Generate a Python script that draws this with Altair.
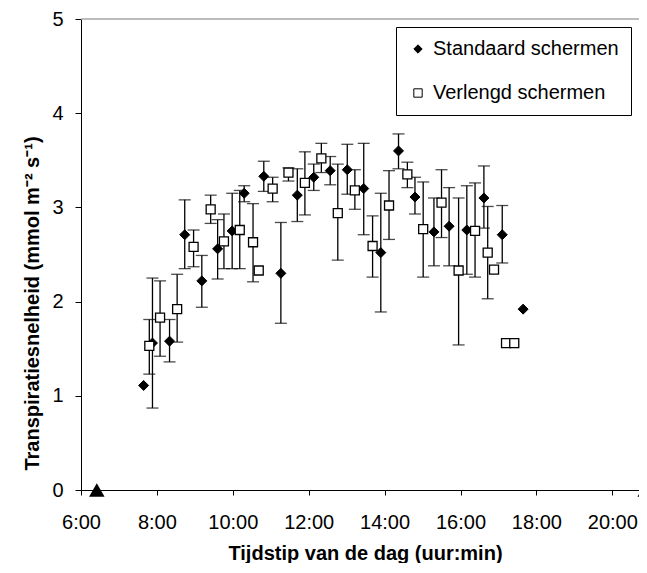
import altair as alt
import pandas as pd

# ---- data ----
series_names = ["Standaard schermen", "Verlengd schermen"]

std_time = ["7:39", "7:53", "8:20", "8:44", "9:11", "9:36", "9:59", "10:18", "10:49", "11:16",
            "11:42", "12:08", "12:34", "13:01", "13:27", "13:54", "14:22", "14:48", "15:18",
            "15:42", "16:10", "16:37", "17:06", "17:39"]
std_val = [1.11, 1.56, 1.58, 2.71, 2.22, 2.56, 2.75, 3.15, 3.33, 2.30, 3.13, 3.32, 3.39, 3.40,
           3.20, 2.52, 3.60, 3.11, 2.74, 2.80, 2.76, 3.10, 2.71, 1.92]
std_lo = [None, 0.87, 1.36, 2.35, 1.94, 2.24, 2.35, 3.06, 3.17, 1.77, 2.85, 3.18, 3.24, 3.14,
          2.71, 1.89, 3.41, 2.93, 2.38, 2.38, 2.29, 2.78, 2.41, None]
std_hi = [None, 2.25, 1.81, 3.08, 2.49, 2.87, 3.15, 3.23, 3.49, 2.84, 3.41, 3.46, 3.54, 3.67,
          3.68, 3.15, 3.78, 3.32, 3.10, 3.21, 3.23, 3.44, 3.02, None]

ver_time = ["7:48", "8:05", "8:32", "8:58", "9:25", "9:46", "10:11", "10:32", "10:41", "11:03",
            "11:28", "11:54", "12:20", "12:46", "13:13", "13:41", "14:07", "14:36", "15:01",
            "15:30", "15:57", "16:23", "16:43", "16:53", "17:12", "17:25"]
ver_val = [1.53, 1.83, 1.92, 2.58, 2.98, 2.64, 2.76, 2.63, 2.33, 3.20, 3.37, 3.26, 3.52, 2.94,
           3.18, 2.59, 3.02, 3.35, 2.77, 3.05, 2.33, 2.75, 2.52, 2.34, 1.56, 1.56]
ver_lo = [1.23, 1.42, 1.57, 2.37, 2.83, 2.35, 2.35, 2.21, None, 3.06, 3.28, 2.92, 3.37, 2.44,
          2.98, 2.26, 2.66, 3.21, 2.26, 2.68, 1.54, 2.26, 2.03, None, None, None]
ver_hi = [1.81, 2.22, 2.29, 2.76, 3.13, 2.93, 3.18, 3.04, None, 3.32, 3.42, 3.59, 3.68, 3.46,
          3.40, 2.91, 3.39, 3.48, 3.27, 3.40, 3.10, 3.26, 3.01, None, None, None]

marker_time = ["6:25", "20:52"]
marker_val = [0, 0]

x_ticks = [6, 8, 10, 12, 14, 16, 18, 20]
y_ticks = [0, 1, 2, 3, 4, 5]


def to_hours(s):
    h, m = s.split(":")
    return int(h) + int(m) / 60.0


rows = []
for t, v, lo, hi in zip(std_time, std_val, std_lo, std_hi):
    rows.append({"serie": series_names[0], "t": to_hours(t), "v": v, "lo": lo, "hi": hi})
for t, v, lo, hi in zip(ver_time, ver_val, ver_lo, ver_hi):
    rows.append({"serie": series_names[1], "t": to_hours(t), "v": v, "lo": lo, "hi": hi})
df = pd.DataFrame(rows)

marks_df = pd.DataFrame({"t": [to_hours(s) for s in marker_time], "v": marker_val})
top_df = pd.DataFrame({"v": [5]})

FONT = "Liberation Sans"
PLOT_W = 558
xscale = alt.Scale(domain=[6, 6 + PLOT_W / 37.95], nice=False, zero=False)
yscale = alt.Scale(domain=[0, 5], nice=False)

x_axis = alt.Axis(values=x_ticks, labelExpr="format(datum.value, 'd') + ':00'", tickSize=5,
                  labelPadding=33, labelBaseline="alphabetic", labelFlush=False,
                  labelOverlap=False, title="Tijdstip van de dag (uur:min)", titleX=284,
                  titleY=69, titleAlign="center", titleBaseline="alphabetic")
y_axis = alt.Axis(values=y_ticks, format="d", tickSize=6, labelPadding=12, labelBaseline="middle",
                  title="Transpiratiesnelheid (mmol m⁻² s⁻¹)", titleX=-43, titleY=284,
                  titleAngle=270, titleAlign="center", titleBaseline="alphabetic")

shape_scale = alt.Scale(domain=series_names, range=["diamond", "square"])
fill_scale = alt.Scale(domain=series_names, range=["black", "white"])
stroke_scale = alt.Scale(domain=series_names, range=["black", "black"])
leg = alt.Legend(orient="none", legendX=315, legendY=8, title=None)

base = alt.Chart(df)

top_line = alt.Chart(top_df).mark_rule(color="#a6a6a6", strokeWidth=1.5).encode(
    y=alt.Y("v:Q", scale=yscale, axis=y_axis)
)

bars = base.transform_filter("isValid(datum.lo)").mark_rule(
    color="black", strokeWidth=1.3
).encode(
    x=alt.X("t:Q", scale=xscale, axis=x_axis),
    y=alt.Y("lo:Q", scale=yscale),
    y2="hi:Q",
)

caps = base.transform_filter("isValid(datum.lo)").transform_fold(
    ["lo", "hi"], as_=["kind", "yy"]
).mark_tick(color="black", thickness=1.3, size=12, orient="horizontal").encode(
    x=alt.X("t:Q", scale=xscale),
    y=alt.Y("yy:Q", scale=yscale),
)


def point_layer(name, size, sw):
    return base.transform_filter(alt.datum.serie == name).mark_point(
        filled=True, strokeWidth=sw, opacity=1, size=size
    ).encode(
        x=alt.X("t:Q", scale=xscale),
        y=alt.Y("v:Q", scale=yscale),
        shape=alt.Shape("serie:N", scale=shape_scale, legend=leg),
        fill=alt.Fill("serie:N", scale=fill_scale, legend=leg),
        stroke=alt.Stroke("serie:N", scale=stroke_scale, legend=leg),
    )


diamonds = point_layer(series_names[0], 100, 1)
squares = point_layer(series_names[1], 81, 1.3)

triangles = alt.Chart(marks_df).mark_point(shape="triangle-up", filled=True, color="black",
                                           size=240, opacity=1).encode(
    x=alt.X("t:Q", scale=xscale),
    y=alt.Y("v:Q", scale=yscale),
)

chart = alt.layer(top_line, bars, caps, diamonds, squares, triangles).properties(
    width=PLOT_W, height=471,
    autosize=alt.AutoSizeParams(type="none"),
    padding={"left": 73, "top": 11, "right": 0, "bottom": 73},
    background="white",
).configure_view(stroke=None).configure_axis(
    labelFont=FONT, labelFontSize=20, labelColor="black",
    titleFont=FONT, titleFontSize=20, titleFontWeight="bold", titleColor="black",
    domainColor="black", tickColor="black", domainWidth=1, tickWidth=1, grid=False,
).configure_legend(
    padding=12, rowPadding=24, labelFontSize=20, labelFont=FONT, labelColor="black",
    labelLimit=400, strokeColor="black", fillColor="white", symbolSize=70,
    symbolStrokeWidth=1, symbolOffset=0, labelOffset=5,
)

chart.save("out.html", embed_options={"renderer": "svg", "actions": False})
